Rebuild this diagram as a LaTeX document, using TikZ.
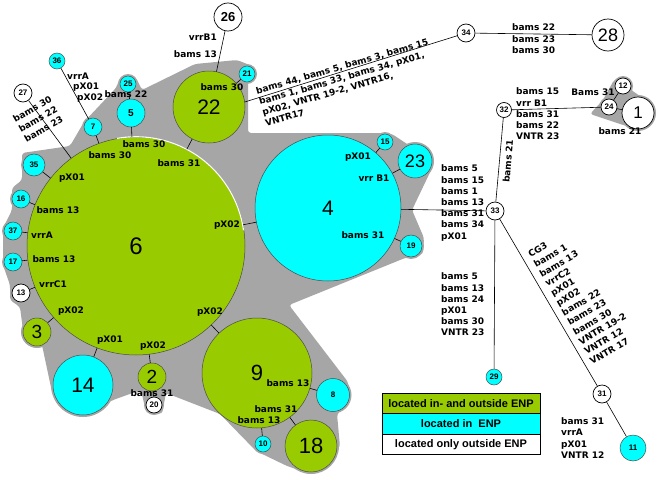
\documentclass[tikz,border=0pt]{standalone}
\usepackage{fontspec}
\usetikzlibrary{backgrounds}
\newfontfamily\dv{DejaVu Sans}
\newfontfamily\ar{Liberation Sans}
\definecolor{leaf}{RGB}{153,204,0}
\definecolor{aqua}{RGB}{0,255,255}
\definecolor{bggray}{RGB}{166,166,166}
\newcommand\bn[1]{\ar\fontsize{#1}{#1}\selectfont}
\newcommand\sm{\ar\bfseries\fontsize{8}{8}\selectfont}
\tikzset{
  grn/.style={circle, draw=black!70, fill=leaf, inner sep=0pt, line width=0.5pt},
  cyn/.style={circle, draw=black!70, fill=aqua, inner sep=0pt, line width=0.5pt},
  wht/.style={circle, draw=black, fill=white, inner sep=0pt, line width=0.7pt},
  lb/.style={font=\dv\bfseries\fontsize{9}{11.2}\selectfont, inner sep=0pt, align=left},
  link/.style={draw=black, line width=0.6pt},
  legbox/.style={draw=black, line width=0.9pt, minimum width=158pt, minimum height=20.5pt, inner sep=0pt, font=\ar\bfseries\fontsize{11}{12}\selectfont},
}
\begin{document}
\begin{tikzpicture}[x=1pt,y=-1pt]
\useasboundingbox (0,0) rectangle (658,479);
% nodes
\node[grn, minimum size=218pt, font=\bn{24}] (n6) at (136,246) {6};
\node[cyn, minimum size=146pt, font=\bn{21}] (n4) at (328,208) {4};
\node[grn, minimum size=72pt, font=\bn{21}] (n22) at (209,107) {22};
\node[grn, minimum size=110pt, font=\bn{22}] (n9) at (257,373) {9};
\node[grn, minimum size=52pt, font=\bn{22}] (n18) at (311,446) {18};
\node[cyn, minimum size=33pt, font=\sm] (n8) at (333,395) {8};
\node[cyn, minimum size=16pt, font=\sm] (n10) at (263,444) {10};
\node[cyn, minimum size=60pt, font=\bn{21}] (n14) at (83,385) {14};
\node[grn, minimum size=28pt, font=\bn{19}] (n2) at (152,377) {2};
\node[wht, minimum size=16pt, font=\sm] (n20) at (154,405) {20};
\node[grn, minimum size=28pt, font=\bn{19}] (n3) at (37,332) {3};
\node[wht, minimum size=18pt, font=\sm] (n13) at (21,293) {13};
\node[cyn, minimum size=18pt, font=\sm] (n17) at (13,262) {17};
\node[cyn, minimum size=18pt, font=\sm] (n37) at (13,231) {37};
\node[cyn, minimum size=18pt, font=\sm] (n16) at (21,199) {16};
\node[cyn, minimum size=22pt, font=\sm] (n35) at (34,165) {35};
\node[cyn, minimum size=18pt, font=\sm] (n7) at (93,127) {7};
\node[cyn, minimum size=16pt, font=\sm] (n36) at (57,61) {36};
\node[wht, minimum size=18pt, font=\sm] (n27) at (23,93) {27};
\node[cyn, minimum size=28pt, font=\ar\bfseries\fontsize{10}{10}\selectfont] (n5) at (131,113) {5};
\node[cyn, minimum size=16pt, font=\sm] (n25) at (128,84) {25};
\node[wht, minimum size=28pt, font=\ar\bfseries\fontsize{13}{13}\selectfont] (n26) at (228,17) {26};
\node[cyn, minimum size=16pt, font=\sm] (n21) at (247,74) {21};
\node[wht, minimum size=18pt, font=\sm] (n34) at (466,33) {34};
\node[wht, minimum size=32pt, font=\bn{18}] (n28) at (608,35) {28};
\node[wht, minimum size=15pt, font=\sm] (n32) at (504,110) {32};
\node[wht, minimum size=16pt, font=\sm] (n24) at (609,107) {24};
\node[wht, minimum size=16pt, font=\sm] (n12) at (623,86) {12};
\node[wht, minimum size=32pt, font=\bn{17}] (n1) at (638,113) {1};
\node[cyn, minimum size=16pt, font=\sm] (n15) at (385,142) {15};
\node[cyn, minimum size=34pt, font=\bn{18}] (n23) at (415,161) {23};
\node[cyn, minimum size=22pt, font=\sm] (n19) at (411,246) {19};
\node[wht, minimum size=18pt, font=\sm] (n33) at (495,211) {33};
\node[cyn, minimum size=16pt, font=\sm] (n29) at (494,377) {29};
\node[wht, minimum size=18pt, font=\sm] (n31) at (602,394) {31};
\node[cyn, minimum size=26pt, font=\sm] (n11) at (633,448) {11};
% white highlight on the rim of 6
\draw[white, line width=1.1pt] (n6.100) arc[start angle=-100, end angle=-8, radius=108.7];
% background
\begin{pgfonlayer}{background}
\fill[white] (0,0) rectangle (658,479);
\fill[bggray, rounded corners=3pt] (22,153) -- (70,146) -- (84,122) -- (116,88) -- (120,78) -- (136,78) -- (142,90) -- (195,64) -- (237,60) -- (252,66) -- (248,82) -- (248,133) -- (376,133) -- (392,134) -- (410,146) -- (428,148) -- (434,164) -- (412,210) -- (424,238) -- (423,254) -- (405,258) -- (289,305) -- (348,382) -- (350,402) -- (337,414) -- (340,447) -- (311,474) -- (287,466) -- (256,451) -- (220,414) -- (166,393) -- (162,414) -- (146,412) -- (141,390) -- (113,400) -- (83,416) -- (52,392) -- (42,345) -- (23,330) -- (20,307) -- (10,300) -- (10,285) -- (3,265) -- (3,228) -- (12,210) -- (12,188) -- (22,180) -- cycle;
\fill[bggray, rounded corners=3pt] (590,114) -- (603,100) -- (614,80) -- (625,76) -- (631,90) -- (640,96) -- (652,105) -- (652,122) -- (640,130) -- (620,124) -- cycle;
\foreach \n/\r in {n35/13,n16/11,n37/11,n17/11,n13/11,n3/16,n14/32,n2/16,n20/10,n7/11,n25/10,n5/16,n21/10,n22/38,n15/10,n23/19,n19/13,n8/18.5,n18/28,n10/10,n12/10,n24/10,n1/18}
  \fill[bggray] (\n) circle (\r pt);
\end{pgfonlayer}
% connectors
\foreach \m in {n35,n16,n37,n17,n13,n3,n14,n2,n9,n4,n22,n5,n7,n27}
  \draw[link] (n6) -- (\m);
\draw[link] (n7) -- (n36);
\draw[link] (n5) -- (n25);
\draw[link] (n22) -- (n26);
\draw[link] (n22) -- (n21);
\draw[link] (n22.8) -- (n34);
\draw[link] (n34) -- (n28);
\draw[link] (n4) -- (n15);
\draw[link] (n4) -- (n23);
\draw[link] (n4) -- (n19);
\draw[link] (n4) -- (n33);
\draw[link] (n33) -- (n32);
\draw[link] (n32) -- (n24);
\draw[link] (n24) -- (n12);
\draw[link] (n24) -- (n1);
\draw[link] (n33) -- (n29);
\draw[link] (n33) -- (n31);
\draw[link] (n31) -- (n11);
\draw[link] (n9) -- (n8);
\draw[link] (n9) -- (n10);
\draw[link] (n9) -- (n18);
\draw[link] (n2) -- (n20);
% labels
\node[lb, anchor=west] (t1) at (67,76) {vrrA};
\node[lb, anchor=west] (t2) at (73,87) {pX01};
\node[lb, anchor=west] (t3) at (77,98) {pX02};
\node[lb] (t4) at (126,94) {bams 22};
\node[lb, rotate=30] (t5) at (38,119) {bams 30\\bams 22\\bams 23};
\node[lb, anchor=east] (t6) at (217,37) {vrrB1};
\node[lb, anchor=east] (t7) at (217,54) {bams 13};
\node[lb] (t8) at (222,87) {bams 30};
\node[lb] (t9) at (144,144) {bams 30};
\node[lb] (t10) at (110,155) {bams 30};
\node[lb] (t11) at (179,163) {bams 31};
\node[lb, rotate=16, anchor=north west] (t12) at (255,87.5) {bams 44, bams 5, bams 3, bams 15\\bams 1, bams 33, bams 34, pX01,\\pX02, VNTR 19-2, VNTR16,\\VNTR17};
\node[lb, anchor=west] (t13) at (512,38.7) {bams 22\\bams 23\\bams 30};
\node[lb, anchor=west] (t14) at (516,114) {bams 15\\vrr B1\\bams 31\\bams 22\\VNTR 23};
\node[lb] (t15) at (593,92) {Bams 31};
\node[lb] (t16) at (620,131) {bams 21};
\node[lb, rotate=85] (t17) at (508,161) {bams 21};
\node[lb] (t18) at (358,157) {pX01};
\node[lb] (t19) at (374,178) {vrr B1};
\node[lb] (t20) at (363,235) {bams 31};
\node[lb] (t21) at (227,225) {pX02};
\node[lb, anchor=west] (t22) at (441,203) {bams 5\\bams 15\\bams 1\\bams 13\\bams 31\\bams 34\\pX01};
\node[lb, anchor=west] (t23) at (441,304.5) {bams 5\\bams 13\\bams 24\\pX01\\bams 30\\VNTR 23};
\node[lb, rotate=30, anchor=north west] (t24) at (527,252) {CG3\\bams 1\\bams 13\\vrrC2\\pX01\\pX02\\bams 22\\bams 23\\bams 30\\VNTR 19-2\\VNTR 12\\VNTR 17};
\node[lb, anchor=west] (t25) at (561,438) {bams 31\\vrrA\\pX01\\VNTR 12};
\node[lb] (t26) at (72,178) {pX01};
\node[lb] (t27) at (58,210) {bams 13};
\node[lb] (t28) at (42,235) {vrrA};
\node[lb] (t29) at (54,259) {bams 13};
\node[lb] (t30) at (53,284) {vrrC1};
\node[lb] (t31) at (71,311) {pX02};
\node[lb] (t32) at (110,340) {pX01};
\node[lb] (t33) at (153,346) {pX02};
\node[lb] (t34) at (210,312) {pX02};
\node[lb] (t35) at (152,393) {bams 31};
\node[lb] (t36) at (288,383) {bams 13};
\node[lb] (t37) at (276,409) {bams 31};
\node[lb] (t38) at (259,420) {bams 13};
% legend
\node[legbox, fill=leaf] (leg1) at (461,403.25) {located in- and outside ENP};
\node[legbox, fill=aqua] (leg2) at (461,423.75) {located in~ ENP};
\node[legbox, fill=white] (leg3) at (461,444.25) {located only outside ENP};
\end{tikzpicture}
\end{document}
